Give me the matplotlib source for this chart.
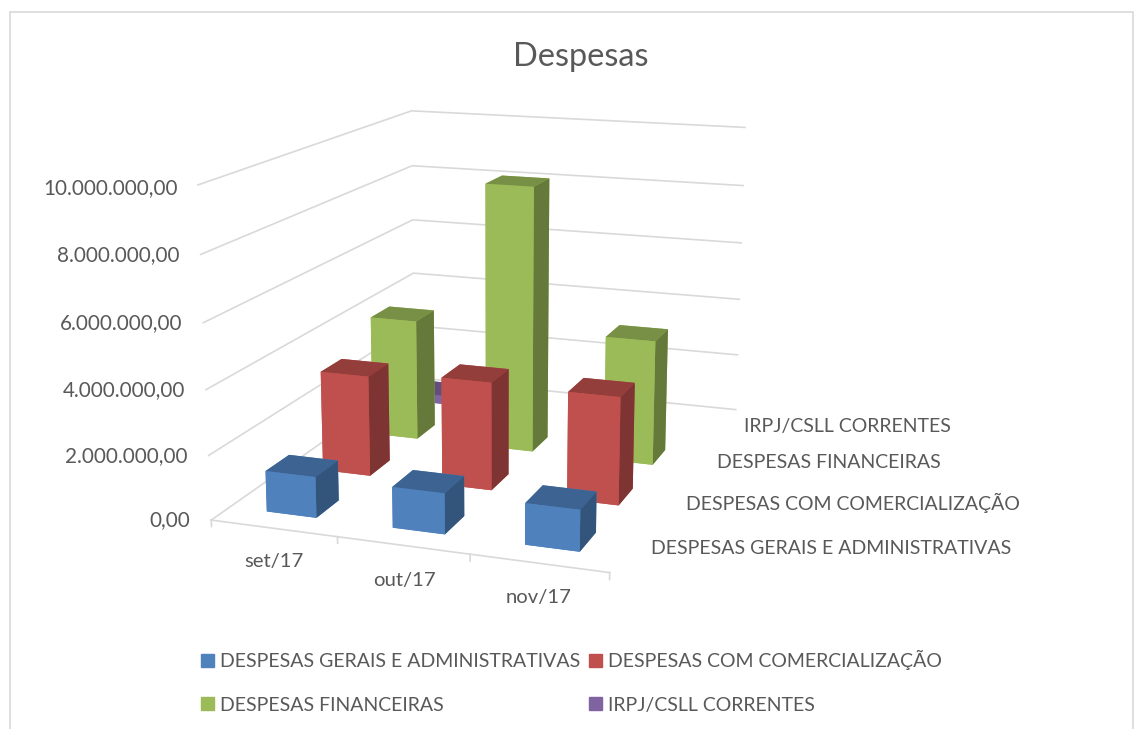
import numpy as np
import matplotlib
matplotlib.use('Agg')
import matplotlib.pyplot as plt
from matplotlib.colors import to_rgb
from matplotlib.patches import Patch, Rectangle

plt.rcParams['font.family'] = ['Lato', 'DejaVu Sans']

months = ['set/17', 'out/17', 'nov/17']
series = ['DESPESAS GERAIS E ADMINISTRATIVAS', 'DESPESAS COM COMERCIALIZAÇÃO', 'DESPESAS FINANCEIRAS', 'IRPJ/CSLL CORRENTES']
gerais = [1270000, 1250000, 1250000]
comercial = [3250000, 3450000, 3400000]
financeiras = [4050000, 8800000, 4100000]
irpj = [300000, 0, 0]
ticks = [0, 2000000, 4000000, 6000000, 8000000, 10000000]
tick_labels = ['0,00', '2.000.000,00', '4.000.000,00', '6.000.000,00', '8.000.000,00', '10.000.000,00']
colors = ['#4F81BD', '#C0504D', '#9BBB59', '#8064A2']

W, H = 1138, 729
text_color = '#595959'
grid_color = '#D9D9D9'

fig = plt.figure(figsize=(W / 100, H / 100), dpi=100)
ax = fig.add_axes([0.12607, 0.09007, 0.60487, 0.94423], projection='3d', computed_zorder=False)
ax.set_xlim(0, 3)
ax.set_ylim(0, 4)
ax.set_zlim(0, 10000000)
ax.set_axis_off()
ax.set_box_aspect((0.7617, 1, 0.6251))
ax.view_init(elev=14.0449, azim=-70.5281)
ax.set_proj_type('persp', focal_length=0.4965)

# walls and floor lines
for v in ticks:
    ax.plot([0, 0, 3], [0, 4, 4], [v, v, v], color=grid_color, lw=1.2, zorder=1)
ax.plot([0, 3], [0, 0], [0, 0], color=grid_color, lw=1.2, zorder=1)
for i in range(4):
    ax.plot([i, i], [0, 0], [0, -200000], color=grid_color, lw=1.2, zorder=1)


def shades(c):
    rgb = np.array(to_rgb(c))
    return [rgb, rgb * 0.77, rgb, rgb, rgb, rgb * 0.65]


# back row first so the front rows cover it
all_vals = [gerais, comercial, financeiras, irpj]
for j in range(3, -1, -1):
    for i, v in enumerate(all_vals[j]):
        if v > 0:
            ax.bar3d(i + 0.3, j + 0.3, 0, 0.4, 0.4, v, color=shades(colors[j]), shade=False,
                     zorder=10 + (3 - j), edgecolor='none')

fig.text(581 / W, 1 - 57 / H, 'Despesas', fontsize=23.4, color=text_color, ha='center', va='center')
for lab, x, y in zip(tick_labels, [190, 188, 185, 182, 180, 178], [520.5, 456.5, 390.5, 323.5, 255.5, 188.5]):
    fig.text(x / W, 1 - y / H, lab, fontsize=14.9, color=text_color, ha='right', va='center')
for lab, x, y in zip(months, [273.5, 404.5, 538.5], [561.5, 580.5, 597.5]):
    fig.text(x / W, 1 - y / H, lab, fontsize=14.6, color=text_color, ha='center', va='center')
for lab, x, y in zip(series, [651, 686, 717, 744], [548.5, 503, 462.5, 426.5]):
    fig.text(x / W, 1 - y / H, lab, fontsize=14, color=text_color, ha='left', va='center')

handles = [Patch(color=c, label=l) for c, l in zip(colors, series)]
fig.legend(handles=[handles[0], handles[2], handles[1], handles[3]], ncol=2, frameon=False,
           loc='center left', bbox_to_anchor=(201 / W, 1 - 682 / H), fontsize=14, labelcolor=text_color,
           handlelength=0.67, handleheight=0.67, handletextpad=0.3, columnspacing=0.46,
           labelspacing=1.35, borderpad=0, borderaxespad=0)

fig.add_artist(Rectangle((10 / W, -0.05), 1123 / W, 1.05 - 12 / H, transform=fig.transFigure,
                         fill=False, edgecolor=grid_color, lw=1.2))

fig.savefig('out.png', dpi=100)
